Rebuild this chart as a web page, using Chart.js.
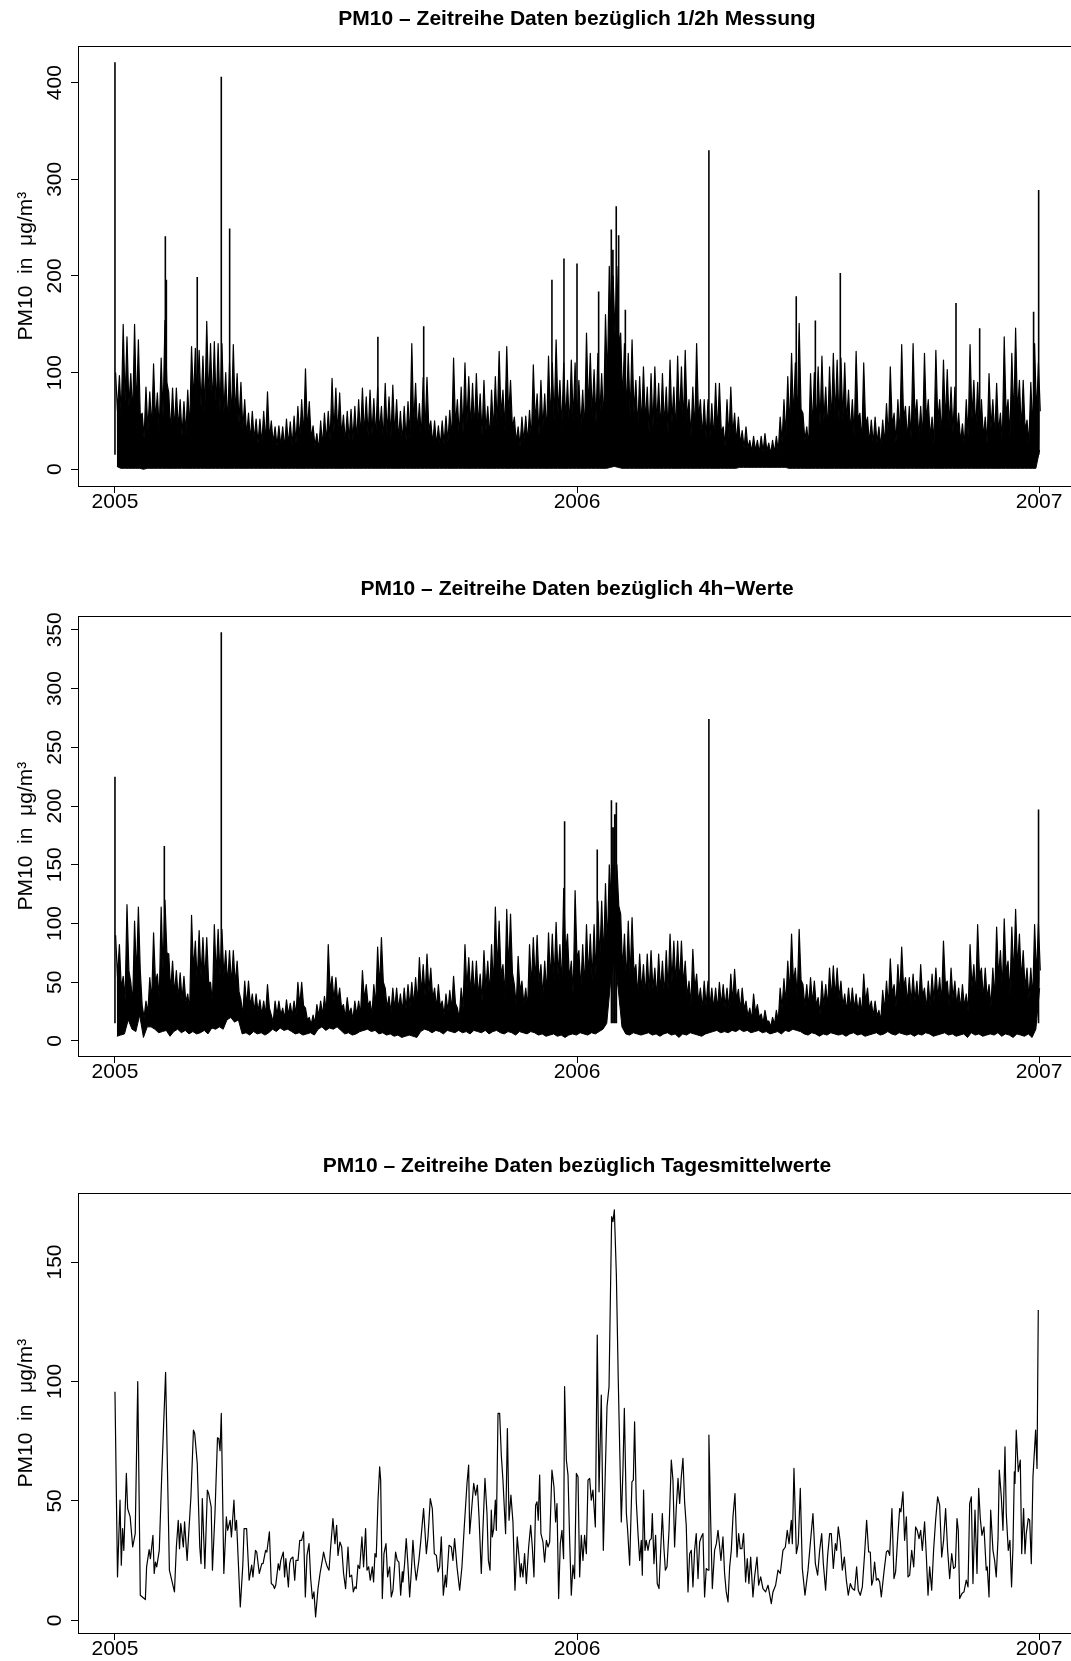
<!DOCTYPE html>
<html>
<head>
<meta charset="utf-8">
<script src="https://cdn.jsdelivr.net/npm/chart.js@4.4.1/dist/chart.umd.min.js"></script>
<style>
  html, body { margin: 0; padding: 0; background: #fff; overflow: hidden; width: 1071px; height: 1661px; }
  canvas { position: absolute; left: 0; }
</style>
</head>
<body>
<canvas id="halbstunden" width="1080" height="526" style="top:0px"></canvas>
<canvas id="vierstunden" width="1080" height="526" style="top:570px"></canvas>
<canvas id="tagesmittel" width="1080" height="526" style="top:1147px"></canvas>
<script>
// Jahresmarken der Zeitachse
const jahre = [2005, 2006, 2007];

// Achsenbeschriftungen je Panel
const ticksHalbstunden = [0, 100, 200, 300, 400];
const ticksVierstunden = [0, 50, 100, 150, 200, 250, 300, 350];
const ticksTag = [0, 50, 100, 150];

// Länge eines Klassenintervalls (Tage) für die dichten Reihen
const BIN_TAGE = 3;

// 1/2h-Messung je 3-Tage-Intervall: Höchstwert, dichter Bereich (oben), Tiefstwert
const halbstundenMax = [
  100, 97, 150, 137, 99, 150, 134, 58, 85, 80,
  109, 79, 115, 154, 79, 84, 84, 72, 70, 82,
  127, 125, 123, 117, 153, 130, 132, 130, 130, 100,
  110, 129, 99, 90, 72, 58, 60, 52, 52, 60,
  80, 50, 44, 45, 44, 52, 49, 55, 65, 72,
  104, 70, 45, 37, 50, 58, 60, 94, 84, 79,
  56, 60, 62, 65, 72, 84, 75, 82, 73, 85,
  65, 89, 75, 87, 72, 60, 65, 70, 130, 89,
  68, 95, 95, 50, 50, 45, 50, 55, 61, 115,
  72, 85, 110, 96, 89, 99, 78, 92, 65, 82,
  96, 122, 82, 127, 92, 54, 44, 54, 55, 61,
  108, 78, 92, 78, 117, 110, 134, 92, 110, 92,
  113, 110, 92, 82, 141, 120, 103, 120, 99, 160,
  210, 200, 210, 141, 130, 120, 134, 92, 96, 106,
  85, 99, 106, 89, 99, 85, 113, 85, 117, 106,
  123, 72, 85, 130, 72, 72, 72, 68, 89, 89,
  44, 72, 85, 58, 54, 40, 44, 30, 34, 30,
  34, 37, 27, 30, 34, 54, 72, 96, 120, 110,
  151, 58, 44, 99, 100, 106, 117, 85, 106, 120,
  113, 115, 110, 82, 72, 122, 58, 110, 54, 51,
  54, 44, 51, 68, 106, 58, 72, 129, 65, 65,
  130, 72, 65, 120, 72, 54, 123, 72, 113, 103,
  85, 85, 58, 47, 72, 129, 92, 90, 72, 54,
  99, 72, 89, 58, 137, 72, 120, 146, 92, 92,
  51, 90, 130, 110
];
const halbstundenDicht = [
  60, 55, 70, 65, 55, 60, 55, 32, 40, 42,
  50, 40, 55, 90, 38, 40, 42, 35, 36, 40,
  70, 68, 65, 60, 72, 65, 62, 60, 58, 45,
  50, 55, 48, 42, 35, 30, 30, 27, 26, 28,
  32, 27, 24, 24, 22, 25, 24, 27, 30, 33,
  40, 32, 24, 20, 24, 28, 30, 38, 36, 35,
  28, 30, 30, 30, 33, 35, 34, 36, 32, 38,
  30, 36, 33, 35, 30, 28, 30, 32, 45, 38,
  32, 40, 40, 26, 25, 24, 26, 28, 30, 45,
  34, 38, 46, 42, 40, 44, 36, 40, 32, 38,
  44, 55, 40, 55, 42, 28, 24, 28, 28, 30,
  48, 36, 42, 36, 50, 50, 58, 42, 50, 42,
  50, 50, 42, 38, 60, 55, 48, 55, 46, 90,
  150, 140, 130, 70, 60, 55, 58, 42, 44, 48,
  38, 44, 46, 40, 44, 38, 48, 38, 50, 46,
  52, 34, 38, 52, 33, 32, 32, 30, 38, 38,
  24, 32, 36, 28, 26, 22, 22, 18, 19, 17,
  18, 19, 16, 17, 19, 28, 34, 42, 52, 50,
  62, 30, 24, 42, 44, 46, 50, 38, 46, 52,
  50, 50, 48, 38, 34, 52, 28, 46, 27, 26,
  27, 23, 26, 32, 45, 28, 33, 52, 31, 31,
  52, 33, 31, 50, 33, 27, 50, 33, 47, 44,
  38, 38, 28, 24, 33, 52, 40, 40, 33, 27,
  42, 33, 38, 28, 55, 33, 50, 58, 40, 40,
  26, 40, 55, 60
];
const halbstundenMin = [
  3, 1, 1, 1, 1, 1, 1, 0, 1, 1,
  1, 1, 1, 1, 1, 1, 1, 1, 1, 1,
  1, 1, 1, 1, 1, 1, 1, 1, 1, 1,
  1, 1, 1, 1, 1, 1, 1, 1, 1, 1,
  1, 1, 1, 1, 1, 1, 1, 1, 1, 1,
  1, 1, 1, 1, 1, 1, 1, 1, 1, 1,
  1, 1, 1, 1, 1, 1, 1, 1, 1, 1,
  1, 1, 1, 1, 1, 1, 1, 1, 1, 1,
  1, 1, 1, 1, 1, 1, 1, 1, 1, 1,
  1, 1, 1, 1, 1, 1, 1, 1, 1, 1,
  1, 1, 1, 1, 1, 1, 1, 1, 1, 1,
  1, 1, 1, 1, 1, 1, 1, 1, 1, 1,
  1, 1, 1, 1, 1, 1, 1, 1, 1, 1,
  2, 3, 2, 1, 1, 1, 1, 1, 1, 1,
  1, 1, 1, 1, 1, 1, 1, 1, 1, 1,
  1, 1, 1, 1, 1, 1, 1, 1, 1, 1,
  1, 1, 1, 1, 2, 2, 2, 2, 2, 2,
  2, 2, 2, 2, 2, 2, 2, 1, 1, 1,
  1, 1, 1, 1, 1, 1, 1, 1, 1, 1,
  1, 1, 1, 1, 1, 1, 1, 1, 1, 1,
  1, 1, 1, 1, 1, 1, 1, 1, 1, 1,
  1, 1, 1, 1, 1, 1, 1, 1, 1, 1,
  1, 1, 1, 1, 1, 1, 1, 1, 1, 1,
  1, 1, 1, 1, 1, 1, 1, 1, 1, 1,
  1, 1, 1, 20
];
// 1/2h-Messung: einzelne Spitzen [Tag, Wert]
const halbstundenSpitzen = [
  [0, 421], [39.8, 241], [40.6, 196], [65, 199], [84, 406], [90.6, 249],
  [207.7, 137], [243.9, 148], [345.2, 196], [354.7, 218], [365, 213],
  [382.1, 184], [392.1, 248], [393.4, 227], [396, 272], [397.9, 242],
  [403.2, 165], [469.2, 330], [538.2, 179], [553.3, 154], [573, 203],
  [664.4, 172], [683.1, 146], [725.7, 163], [729.7, 289]
];

// 4h-Werte je 3-Tage-Intervall: Höchstwert, dichter Bereich (oben), Tiefstwert
const vierstundenMax = [
  90, 82, 55, 116, 50, 102, 114, 30, 34, 54,
  92, 57, 114, 120, 74, 68, 60, 58, 55, 40,
  107, 85, 94, 88, 88, 50, 99, 95, 95, 77,
  77, 77, 68, 35, 51, 51, 40, 40, 35, 34,
  48, 22, 34, 34, 28, 35, 32, 34, 50, 50,
  28, 20, 22, 31, 34, 38, 82, 55, 54, 45,
  31, 37, 28, 34, 34, 60, 48, 34, 48, 80,
  88, 45, 38, 45, 45, 40, 45, 48, 50, 54,
  71, 65, 74, 62, 45, 48, 34, 40, 43, 55,
  28, 45, 82, 71, 68, 68, 57, 77, 68, 82,
  114, 102, 65, 112, 108, 48, 72, 51, 45, 82,
  88, 90, 65, 68, 92, 91, 101, 82, 130, 91,
  68, 128, 77, 82, 99, 91, 99, 119, 119, 134,
  150, 150, 150, 108, 91, 102, 105, 65, 74, 65,
  74, 77, 62, 74, 68, 77, 91, 85, 85, 85,
  68, 51, 78, 57, 45, 51, 51, 45, 45, 50,
  48, 45, 57, 61, 44, 45, 34, 28, 40, 31,
  23, 26, 17, 20, 26, 45, 53, 68, 91, 62,
  95, 48, 48, 54, 51, 37, 51, 48, 62, 64,
  62, 51, 40, 45, 45, 40, 37, 57, 45, 34,
  34, 26, 43, 51, 70, 48, 65, 80, 54, 54,
  57, 51, 65, 45, 51, 57, 62, 54, 85, 51,
  62, 51, 45, 48, 40, 82, 65, 99, 62, 62,
  48, 62, 97, 77, 104, 68, 97, 112, 91, 77,
  62, 62, 99, 100
];
const vierstundenDicht = [
  55, 45, 35, 60, 32, 55, 60, 20, 24, 34,
  50, 36, 60, 75, 42, 40, 36, 35, 33, 26,
  60, 50, 55, 52, 50, 32, 55, 55, 55, 48,
  48, 48, 42, 22, 30, 30, 25, 25, 22, 22,
  28, 16, 22, 22, 19, 22, 21, 22, 30, 30,
  18, 14, 15, 21, 22, 24, 42, 34, 33, 28,
  20, 23, 18, 22, 22, 35, 30, 22, 30, 45,
  50, 28, 24, 27, 27, 25, 27, 29, 30, 32,
  40, 38, 42, 36, 28, 29, 22, 25, 27, 32,
  19, 28, 45, 40, 38, 38, 34, 44, 40, 46,
  60, 56, 38, 60, 58, 30, 42, 31, 28, 46,
  50, 50, 38, 40, 52, 52, 56, 46, 75, 52,
  40, 70, 44, 46, 55, 52, 56, 68, 70, 80,
  120, 125, 115, 60, 50, 55, 58, 38, 42, 38,
  42, 44, 36, 42, 38, 44, 50, 48, 48, 48,
  38, 30, 44, 33, 27, 30, 30, 27, 27, 30,
  29, 27, 33, 35, 26, 27, 21, 18, 24, 20,
  15, 17, 12, 14, 17, 28, 32, 40, 50, 37,
  52, 29, 29, 32, 30, 23, 30, 29, 36, 37,
  36, 30, 25, 27, 27, 25, 23, 33, 27, 21,
  21, 17, 26, 30, 40, 29, 38, 45, 32, 32,
  34, 30, 38, 27, 30, 34, 36, 32, 48, 30,
  36, 30, 27, 29, 25, 46, 38, 55, 36, 36,
  29, 36, 54, 44, 58, 40, 54, 62, 52, 44,
  36, 36, 55, 60
];
const vierstundenMin = [
  4, 5, 6, 18, 10, 8, 22, 3, 12, 12,
  10, 7, 8, 9, 4, 8, 10, 7, 9, 6,
  8, 6, 7, 9, 6, 11, 10, 12, 10, 18,
  20, 16, 18, 6, 7, 5, 8, 6, 7, 5,
  7, 10, 8, 11, 9, 10, 8, 6, 7, 5,
  6, 7, 5, 10, 12, 9, 11, 10, 12, 9,
  6, 7, 5, 6, 8, 9, 10, 8, 9, 6,
  7, 5, 6, 4, 5, 3, 4, 5, 4, 3,
  8, 10, 9, 7, 9, 8, 6, 9, 8, 7,
  9, 7, 8, 6, 9, 8, 7, 9, 6, 8,
  9, 7, 6, 8, 7, 5, 8, 7, 6, 8,
  7, 5, 6, 4, 5, 6, 4, 5, 3, 5,
  6, 5, 7, 6, 5, 7, 6, 8, 10, 15,
  50, 70, 45, 12, 6, 5, 7, 6, 5, 6,
  7, 5, 6, 4, 6, 7, 5, 6, 3, 6,
  5, 7, 6, 5, 4, 6, 7, 8, 9, 7,
  8, 7, 9, 8, 10, 8, 9, 7, 8, 9,
  7, 8, 6, 7, 8, 6, 9, 8, 10, 9,
  8, 6, 5, 7, 6, 4, 6, 5, 7, 6,
  5, 6, 4, 6, 7, 5, 6, 4, 5, 6,
  7, 5, 6, 8, 6, 5, 7, 6, 5, 6,
  4, 6, 5, 7, 6, 4, 5, 6, 7, 5,
  6, 4, 5, 6, 3, 7, 5, 6, 4, 5,
  6, 5, 7, 4, 6, 5, 3, 6, 5, 4,
  6, 3, 10, 45
];
// 4h-Werte: einzelne Spitzen [Tag, Wert]
const vierstundenSpitzen = [
  [0, 225], [39, 166], [84, 348], [355.2, 187], [381, 163],
  [392.2, 205], [393.5, 182], [394.8, 193], [396.1, 203],
  [469.2, 274], [729.6, 197]
];

// Tagesmittelwerte: [Tag seit 1.1.2005, Wert]
const tagesmittel2005 = [
  [0,95.7],[2,18.2],[4,50.3],[5,23.1],[6,38.4],[7,29.3],[9,61.5],[10,46.8],[12,43.3],[14,30.7],
  [16,36.3],[18,99.9],[20,10.5],[24,8.7],[25,22.4],[27,29.6],[28,25.8],[30,35.6],[31,19.6],[32,24.4],
  [33,22.4],[35,29.3],[37,61.5],[40,103.8],[43,21.0],[47,11.9],[48.5,30.7],[50,41.9],[51,30.0],[52,40.5],
  [54,30.7],[55,41.2],[57,25.1],[60,51.7],[62,79.6],[63,78.2],[65,65.7],[67,30.7],[68,23.7],[69,51.0],
  [71,21.7],[73,54.5],[74,53.1],[76,47.5],[77,21.0],[79,44.7],[81,76.4],[82,76.1],[83,71.0],[84,86.6],
  [86,19.6],[88,43.3],[89,37.7],[91,41.9],[92,34.9],[94,50.3],[95,37.7],[96,41.9],[99,5.6],[101,23.1],
  [102,38.4],[104,38.4],[106,16.8],[108,23.1],[109,18.2],[111,29.3],[112,28.6],[114,19.6],[116,23.7],[117,23.7],
  [119,29.3],[120,28.6],[122,37.0],[123.5,15.4],[125,14.7],[126,13.3],[127,14.7],[129,23.7],[130,21.0],[131,25.1],
  [133,28.6],[134,18.2],[135,25.8],[137,14.0],[138,23.7],[139,25.8],[140.6,26.5],[142,16.8],[143,25.1],[144.6,25.1],
  [146,33.5],[147.5,33.5],[149,37.0],[150.4,9.8],[151.7,27.2],[153.3,32.1],[154.6,17.5],[156,9.1],[157.2,11.9],[158.5,1.4],
  [160.4,13.3],[162,19.6],[163.8,25.1],[164.8,28.6],[166.2,25.1],[167.7,22.4],[169.1,21.0],[170.4,30.7],[172.2,42.6],[173.8,32.1],
  [175.1,39.8],[176.2,27.2],[177.7,32.8],[179.1,30.7],[180.6,19.6],[182.2,13.3],[184.1,30.7],[185.4,18.2],[187,18.9],[188.3,11.9],
  [189.6,14.0],[190.6,13.3],[192,23.1],[193.3,21.7],[195.1,34.9],[196.4,22.4],[198,38.4],[199.1,21.0],[200.4,22.4],[201.7,16.8],
  [203.3,22.4],[204.3,16.1],[205.4,27.9],[206.4,26.5],[207.8,50.3],[209.1,64.3],[209.9,58.7],[211.2,9.1],[212.5,27.9],[214.1,32.1],
  [215.4,18.2],[217,22.4],[218.3,9.8],[219.6,12.6],[221.7,28.6],[223,25.1],[224.3,24.4],[225.7,10.5],[227,20.3],[227.5,16.1],
  [228.8,23.7],[230.1,34.2],[231.4,23.7],[232.8,9.8],[234.1,20.3],[235.4,33.5],[236.7,23.1],[238,16.8],[240.1,25.1],[241.4,32.1],
  [243.8,46.8],[246,27.9],[247.3,34.9],[249.1,51.0],[250.7,46.8],[252.3,27.9],[253.9,27.2],[255.2,20.3],[256.5,22.4],[257.8,34.9],
  [259.4,10.5],[261,18.9],[261.8,14.0],[263.9,31.4],[265.7,30.7],[267,25.1],[268.3,34.2],[270.2,22.4],[272.3,12.6],[274.1,22.4],
  [275.7,37.0],[278.1,57.3],[279.4,65.0],[280.2,36.3],[281.5,44.7],[283.4,57.3],[284.9,52.4],[286.3,56.6],[287.6,43.3],[289.4,19.6],
  [290.7,38.4],[292.3,59.4],[293.9,44.7],[295,25.1],[296.3,21.0],[297.3,46.1],[298.1,34.9],[299.2,38.4],[300.5,50.3],[301.3,37.7],
  [302.6,86.6],[303.9,86.6],[305.2,69.2],[306.5,58.7],[307.8,44.7],[308.6,36.3],[310,80.3],[311.3,41.9],[312.8,52.4],[314.4,41.2],
  [316,12.6],[317.8,34.9],[319.2,26.5],[320.2,18.2],[321,23.7],[322.3,18.2],[323.6,27.9],[325,15.4],[326.8,30.7],[328.4,39.8],
  [329.7,30.7],[331,18.2],[332.3,48.2],[333.4,49.6],[334.4,41.9],[335.5,60.8],[336.5,36.3],[338.1,32.8],[339.4,24.4],[340.8,33.5],
  [342.1,30.7],[343.4,32.8],[345.2,62.9],[346.8,55.9],[348.1,41.2],[349.2,48.9],[350.5,9.1],[351.8,32.1],[353.1,37.7],[354.4,25.8],
  [355.2,97.8],[356.6,67.1],[357.9,60.8],[359.2,33.5],[360.5,10.5],[361.8,23.1],[363.1,17.5],[364.5,61.5]
];
const tagesmittel2006 = [
  [365.8,60.1],[367.1,18.2],[368.4,35.6],[369.7,25.1],[371,35.6],[372.4,27.9],[373.7,58.7],[375,59.4],[376.3,50.3],[377.6,54.5],
  [379.5,39.1],[381,119.4],[382.4,53.8],[384.2,94.3],[385.8,29.3],[387.4,62.9],[388.7,89.4],[390.3,97.8],[391.3,132.7],[392.4,169.0],
  [393.4,166.9],[394.5,171.8],[396.1,144.6],[397.6,100.6],[398.7,72.6],[400,41.2],[401.3,62.9],[402.4,88.7],[404,44.7],[405,37.7],
  [406.6,23.1],[408.4,58.0],[409.5,58.7],[410.5,83.1],[411.8,50.3],[413.2,36.3],[414.5,25.1],[415.8,33.5],[416.6,18.9],[417.6,54.5],
  [418.7,29.3],[419.7,33.5],[421.1,29.3],[422.4,33.5],[423.7,34.2],[424.5,44.7],[425.8,23.7],[427.1,35.6],[428.4,15.4],[429.8,13.3],
  [431.1,29.3],[432.4,44.7],[433.7,30.0],[434.8,21.0],[436.1,22.4],[437.7,37.7],[439.5,67.1],[440.8,58.7],[442.1,30.7],[443.4,46.8],
  [444.8,59.4],[446.1,48.9],[447.4,60.1],[448.7,67.8],[450,49.6],[451.3,39.8],[452.7,11.9],[454,27.9],[455.3,29.3],[456.6,14.0],
  [457.9,29.3],[459.2,36.3],[460.6,17.5],[461.9,32.8],[463.2,34.9],[464.5,36.3],[465.8,9.8],[467.1,21.7],[468.5,21.0],[469.2,77.5],
  [470.6,41.9],[471.9,13.3],[473.7,29.3],[475.1,32.1],[476.4,37.7],[477.7,30.7],[478.7,25.1],[480.3,34.9],[481.6,19.6],[482.9,11.9],
  [484.3,7.7],[485.6,22.4],[486.9,29.3],[488.2,43.3],[489.8,53.1],[491.4,26.5],[492.7,36.3],[494,30.0],[495.3,30.0],[496.6,36.3],
  [498.2,16.1],[499.5,25.8],[500.8,15.4],[502.2,26.5],[504,9.8],[505.3,18.2],[507.2,26.5],[508.5,14.7],[510.1,18.2],[511.9,13.3],
  [514,11.9],[515.9,14.7],[518.5,7.0],[519.8,11.9],[521.9,14.7],[523.8,21.0],[525.6,19.6],[527.7,29.3],[529.6,30.7],[531.1,37.7],
  [532.5,32.1],[534.3,41.9],[535.1,32.1],[536.4,63.6],[538.3,27.9],[539.8,32.1],[541.4,55.2],[543,21.7],[545.1,10.5],[547.5,21.0],
  [549.3,32.1],[551.4,44.7],[553.3,23.7],[555.1,18.9],[556.7,29.3],[558.3,36.3],[559.6,23.7],[561.4,12.6],[563,27.2],[564.6,36.3],
  [565.9,36.3],[567.5,21.7],[569.1,32.1],[570.1,29.3],[571.4,39.1],[573,32.8],[574.6,21.0],[576.2,26.5],[577.8,16.8],[579.3,10.5],
  [580.9,15.4],[582.5,13.3],[584.3,12.6],[585.9,22.4],[587.2,12.6],[588.8,10.5],[590.4,14.0],[592.2,27.9],[593.8,41.9],[595.4,28.6],
  [596.7,28.6],[597.8,14.7],[598.8,16.8],[600.1,24.4],[601.5,16.8],[602.8,17.5],[604.1,16.1],[605.4,9.8],[607.5,20.3],[609.4,28.6],
  [610.7,29.3],[612,27.2],[613.8,46.8],[615.4,17.5],[616.7,20.3],[618.3,34.2],[619.9,46.8],[620.9,45.4],[622.5,53.8],[623.8,33.5],
  [625.2,43.3],[626.5,18.2],[627.8,18.9],[629.4,29.3],[631,22.4],[632.5,39.1],[633.8,37.7],[635.2,34.2],[636.5,37.7],[637.8,29.3],
  [639.6,41.2],[641,26.5],[642.3,10.5],[643.6,22.4],[645.2,12.6],[646.7,29.3],[648.3,41.9],[649.9,51.7],[651.5,48.2],[653.1,26.5],
  [654.6,33.5],[656.2,46.8],[657.8,29.3],[659.4,17.5],[661,27.9],[662.5,21.7],[663.9,22.4],[665.2,42.6],[666.2,37.7],[667.3,9.1],
  [669.1,11.2],[670.7,11.9],[672.5,16.8],[673.9,14.0],[675.2,48.9],[676.5,51.7],[677.8,15.4],[679.4,46.1],[681,19.6],[682.3,55.2],
  [683.6,42.6],[684.9,35.6],[686.5,39.1],[688.3,21.0],[689.1,22.4],[690.5,9.8],[691.8,46.1],[693.6,29.3],[694.9,25.1],[696.2,18.2],
  [697.6,34.2],[698.6,62.9],[700.2,51.7],[701.5,37.7],[703.1,72.6],[704.1,44.7],[705.7,29.3],[707,33.5],[708.3,14.0],[709.4,30.7],
  [710.5,62.2],[711,57.3],[712,79.6],[713.6,62.2],[715.2,67.1],[716.3,27.9],[717.8,46.8],[718.9,27.9],[719.9,36.3],[721.5,42.6],
  [722.6,41.9],[723.9,23.7],[725.2,60.1],[727.3,79.6],[728.4,63.6],[729.4,129.9]
];

const FONT = "'Liberation Sans', Arial, Helvetica, sans-serif";
const Y_TITEL = 'PM10  in  \u03bcg/m\u00b3';
const SPITZEN_BASIS = 15;

function tagZuJahr(tag) { return 2005 + tag / 365; }

// Obere Kante: je Intervall der Höchstwert, danach die Oberkante des dichten Bereichs
function oberkante(maxWerte, dichtWerte) {
  const punkte = [];
  for (let i = 0; i < maxWerte.length; i++) {
    punkte.push({ x: tagZuJahr(i * BIN_TAGE + 0.5), y: maxWerte[i] });
    punkte.push({ x: tagZuJahr(i * BIN_TAGE + 2), y: dichtWerte[i] });
  }
  return punkte;
}

// Untere Kante: ein Punkt je Intervallmitte
function unterkante(minWerte) {
  return minWerte.map((v, i) => ({ x: tagZuJahr(i * BIN_TAGE + BIN_TAGE / 2), y: v }));
}

// Spitzen als einzelne senkrechte Striche
function striche(liste) {
  const punkte = [];
  liste.forEach(p => {
    const x = tagZuJahr(p[0]);
    punkte.push({ x, y: SPITZEN_BASIS }, { x, y: p[1] }, { x, y: null });
  });
  return punkte;
}

function paare(liste) {
  return liste.map(p => ({ x: tagZuJahr(p[0]), y: p[1] }));
}

const linie = {
  borderColor: '#000',
  pointRadius: 0,
  tension: 0,
  borderJoinStyle: 'round',
  borderCapStyle: 'butt'
};

function dichteReihe(maxWerte, dichtWerte, minWerte, spitzen) {
  return [
    Object.assign({}, linie, { data: oberkante(maxWerte, dichtWerte), borderWidth: 1.2, fill: '+1', backgroundColor: '#000' }),
    Object.assign({}, linie, { data: unterkante(minWerte), borderWidth: 1, fill: false }),
    Object.assign({}, linie, { data: striche(spitzen), borderWidth: 1.6, fill: false, spanGaps: false })
  ];
}

// Rahmen um die Zeichenfläche (wie box() in R)
const rahmen = {
  id: 'rahmen',
  afterDatasetsDraw(chart) {
    const { ctx, chartArea: a } = chart;
    ctx.save();
    ctx.strokeStyle = '#000';
    ctx.lineWidth = 1;
    const l = Math.round(a.left) + 0.5, t = Math.round(a.top) + 0.5;
    const r = Math.round(a.right) + 0.5, b = Math.round(a.bottom) + 0.5;
    ctx.strokeRect(l, t, r - l, b - t);
    ctx.restore();
  }
};

function panel(id, titel, yMin, yMax, yTicks, datensaetze) {
  return new Chart(document.getElementById(id), {
    type: 'line',
    data: { datasets: datensaetze },
    options: {
      responsive: false,
      animation: false,
      events: [],
      layout: { padding: { left: 0, right: 4, top: 0, bottom: 0 } },
      plugins: {
        legend: { display: false },
        tooltip: { enabled: false },
        title: {
          display: true,
          text: titel,
          fullSize: false,
          color: '#000',
          font: { family: FONT, size: 21, weight: 'bold' },
          padding: { top: 7, bottom: 14 }
        }
      },
      scales: {
        x: {
          type: 'linear',
          min: 2004.92,
          max: 2007.08,
          afterBuildTicks: s => { s.ticks = jahre.map(v => ({ value: v })); },
          afterFit: s => { s.height = 40; },
          ticks: {
            color: '#000',
            font: { family: FONT, size: 21 },
            padding: -3,
            maxRotation: 0,
            autoSkip: false,
            callback: v => String(v)
          },
          grid: { display: true, drawOnChartArea: false, drawTicks: true, tickLength: 7, tickColor: '#000', tickWidth: 1 },
          border: { display: false }
        },
        y: {
          type: 'linear',
          min: yMin,
          max: yMax,
          afterBuildTicks: s => { s.ticks = yTicks.map(v => ({ value: v })); },
          afterFit: s => { s.width = 78; },
          ticks: {
            color: '#000',
            font: { family: FONT, size: 21 },
            padding: -2,
            minRotation: 90,
            maxRotation: 90,
            crossAlign: 'center',
            autoSkip: false,
            callback: v => String(v)
          },
          grid: { display: true, drawOnChartArea: false, drawTicks: true, tickLength: 7, tickColor: '#000', tickWidth: 1 },
          border: { display: false },
          title: {
            display: true,
            text: Y_TITEL,
            color: '#000',
            font: { family: FONT, size: 21 },
            padding: { top: 13.6, bottom: 0 }
          }
        }
      }
    },
    plugins: [rahmen]
  });
}

panel('halbstunden', 'PM10 \u2013 Zeitreihe Daten bez\u00fcglich 1/2h Messung',
      -17.3, 437.7, ticksHalbstunden,
      dichteReihe(halbstundenMax, halbstundenDicht, halbstundenMin, halbstundenSpitzen));
panel('vierstunden', 'PM10 \u2013 Zeitreihe Daten bez\u00fcglich 4h\u2212Werte',
      -12.8, 361.6, ticksVierstunden,
      dichteReihe(vierstundenMax, vierstundenDicht, vierstundenMin, vierstundenSpitzen));
panel('tagesmittel', 'PM10 \u2013 Zeitreihe Daten bez\u00fcglich Tagesmittelwerte',
      -5.3, 178.8, ticksTag,
      [Object.assign({}, linie, { data: paare(tagesmittel2005.concat(tagesmittel2006)), borderWidth: 1.2, fill: false })]);
</script>
</body>
</html>
